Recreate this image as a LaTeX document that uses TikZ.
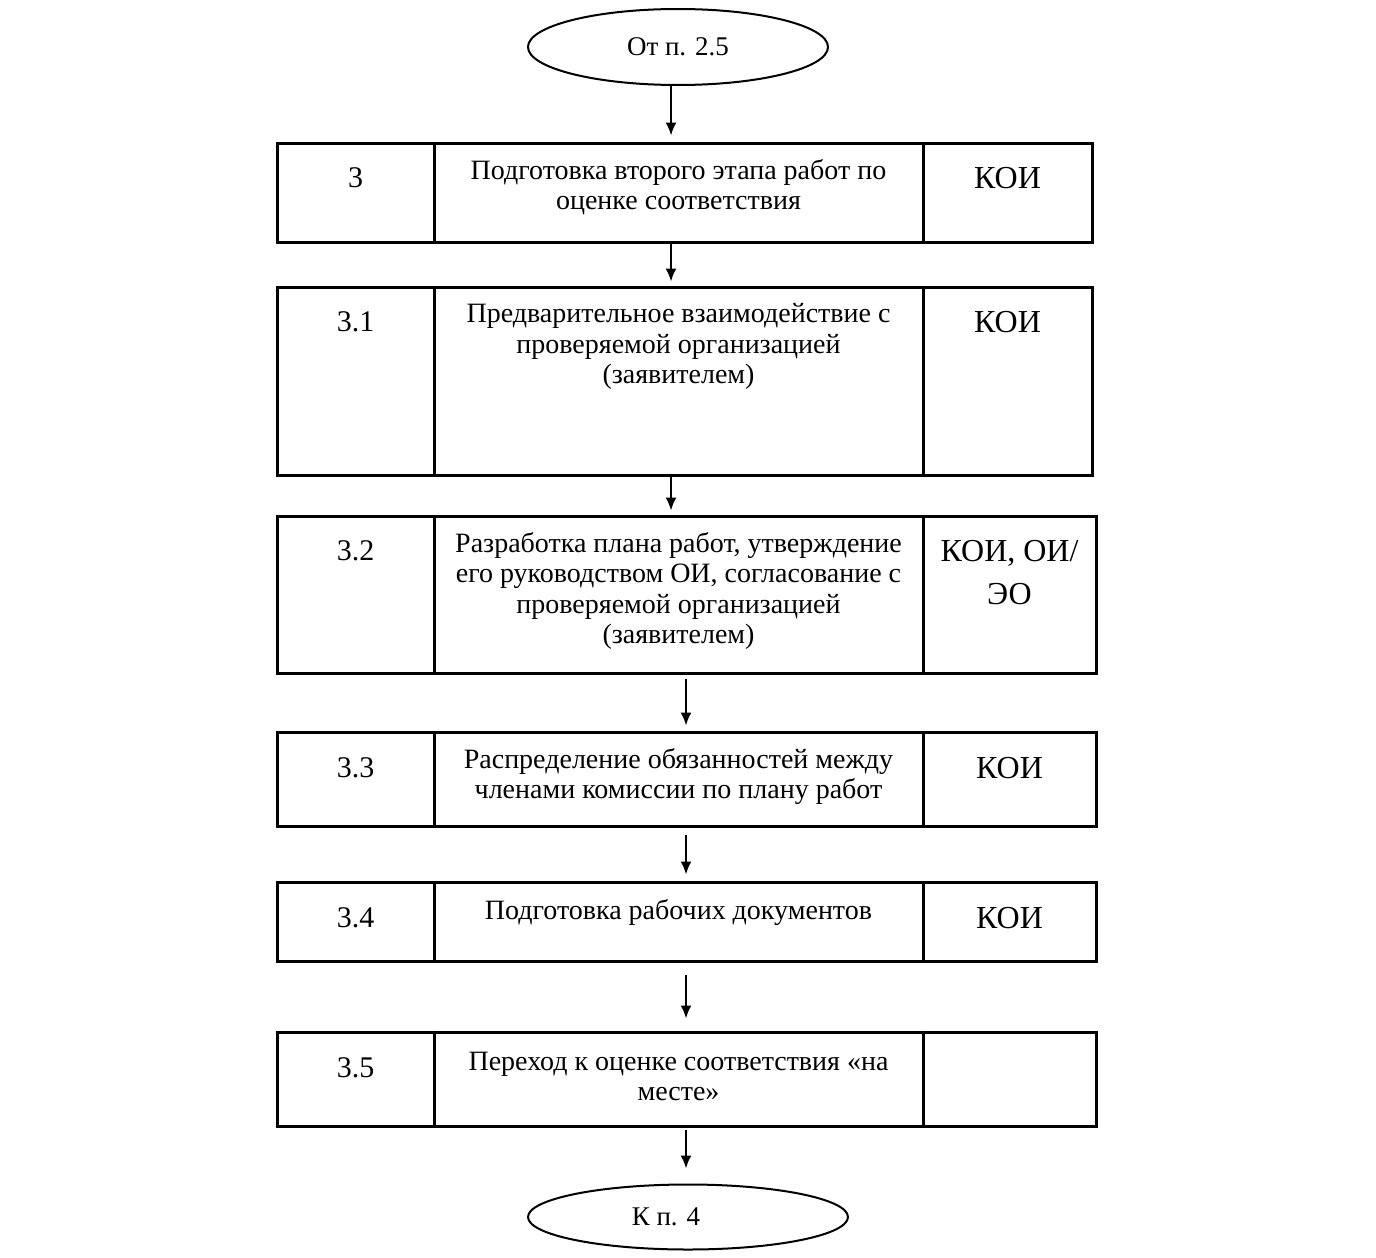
\documentclass[tikz,border=0pt]{standalone}
\usepackage{fontspec}
\setmainfont{Liberation Serif}
\usetikzlibrary{shapes.geometric,fit,arrows.meta}
\begin{document}
\begin{tikzpicture}[x=0.5pt,y=-0.5pt,
  rowbox/.style={draw,line width=1.5pt,inner sep=0pt,rectangle},
  divline/.style={line width=1.5pt},
  term/.style={draw,ellipse,line width=1pt,inner sep=0pt,font=\fontsize{13.5}{15.3}\selectfont},
  numtxt/.style={font=\fontsize{15}{18}\selectfont,inner sep=0pt},
  midtxt/.style={font=\fontsize{14}{15.3}\selectfont,align=center,inner sep=0pt},
  resptxt/.style={font=\fontsize{16}{21.5}\selectfont,align=center,inner sep=0pt},
  arr/.style={line width=1pt,-{Latex[length=6.5pt,width=5.5pt]}}]
\useasboundingbox (0,0) rectangle (1376,1258);
\coordinate (d1) at (434,0);
\coordinate (d2) at (923,0);
\coordinate (ax1) at (671,0);
\coordinate (ax2) at (686,0);

% terminals
\node[term,minimum width=150pt,minimum height=38pt] (e1) at (678,47) {От п. 2.5};
\node[term,minimum width=160pt,minimum height=32.5pt] (e2) at (688,1217) {К п. 4\rule{22pt}{0pt}};

% rows
\node[rowbox,fit={(277,143) (1092,242)}] (r1) {};
\node[rowbox,fit={(277,287) (1092,475)}] (r2) {};
\node[rowbox,fit={(277,516) (1096,673)}] (r3) {};
\node[rowbox,fit={(277,732) (1096,826)}] (r4) {};
\node[rowbox,fit={(277,882) (1096,961)}] (r5) {};
\node[rowbox,fit={(277,1032) (1096,1126)}] (r6) {};

\foreach \r in {r1,r2,r3,r4,r5,r6}{
  \draw[divline] (\r.north -| d1) -- (\r.south -| d1);
  \draw[divline] (\r.north -| d2) -- (\r.south -| d2);
}

% row 1
\node[numtxt] (n1) at (355.5,178) {3};
\node[midtxt] (m1) at (678.5,187) {Подготовка второго этапа работ по\\оценке соответствия};
\node[resptxt] (k1) at (1007.5,178) {КОИ};
% row 2
\node[numtxt] (n2) at (355.5,322) {3.1};
\node[midtxt] (m2) at (678.5,346.5) {Предварительное взаимодействие с\\проверяемой организацией\\(заявителем)};
\node[resptxt] (k2) at (1007.5,322) {КОИ};
% row 3
\node[numtxt] (n3) at (355.5,551) {3.2};
\node[midtxt] (m3) at (678.5,591) {Разработка плана работ, утверждение\\его руководством ОИ, согласование с\\проверяемой организацией\\(заявителем)};
\node[resptxt] (k3) at (1009.5,573) {КОИ, ОИ/\\ЭО};
% row 4
\node[numtxt] (n4) at (355.5,768) {3.3};
\node[midtxt] (m4) at (678.5,776.5) {Распределение обязанностей между\\членами комиссии по плану работ};
\node[resptxt] (k4) at (1009.5,768) {КОИ};
% row 5
\node[numtxt] (n5) at (355.5,918) {3.4};
\node[midtxt] (m5) at (678.5,912) {Подготовка рабочих документов};
\node[resptxt] (k5) at (1009.5,918) {КОИ};
% row 6
\node[numtxt] (n6) at (355.5,1068) {3.5};
\node[midtxt] (m6) at (678.5,1076.5) {Переход к оценке соответствия «на\\месте»};

% connectors
\draw[arr,shorten >=3pt] (e1.south -| ax1) -- (r1.north -| ax1);
\draw[arr,shorten >=2pt] (r1.south -| ax1) -- (r2.north -| ax1);
\draw[arr,shorten >=2pt] (r2.south -| ax1) -- (r3.north -| ax1);
\draw[arr,shorten <=2pt,shorten >=2.5pt] (r3.south -| ax2) -- (r4.north -| ax2);
\draw[arr,shorten <=3.5pt,shorten >=3pt] (r4.south -| ax2) -- (r5.north -| ax2);
\draw[arr,shorten <=6pt,shorten >=6pt] (r5.south -| ax2) -- (r6.north -| ax2);
\draw[arr,shorten <=1pt,shorten >=7.5pt] (r6.south -| ax2) -- (e2.north -| ax2);
\end{tikzpicture}
\end{document}
